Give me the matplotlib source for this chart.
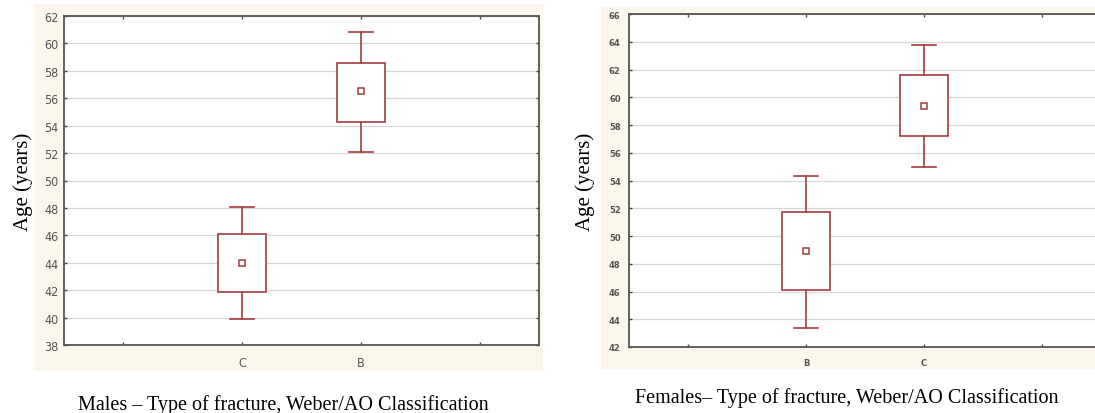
import matplotlib.pyplot as plt
from matplotlib.patches import Rectangle

# Males: type of fracture (C, B)
male_groups = ["C", "B"]
male_mean = [44.0, 56.5]
male_box_lo = [41.9, 54.3]
male_box_hi = [46.1, 58.6]
male_whisk_lo = [39.9, 52.1]
male_whisk_hi = [48.1, 60.8]

# Females: type of fracture (B, C)
female_groups = ["B", "C"]
female_mean = [48.9, 59.4]
female_box_lo = [46.1, 57.2]
female_box_hi = [51.7, 61.6]
female_whisk_lo = [43.4, 55.0]
female_whisk_hi = [54.3, 63.8]

box_color = "#a23d41"
cream = "#fcf7ec"
serif = ["Liberation Serif", "DejaVu Serif"]


def draw_panel(ax, groups, mean, box_lo, box_hi, whisk_lo, whisk_hi):
    pos = [2, 3]
    half_box = 0.2
    half_cap = 0.1
    for x, m, b0, b1, w0, w1 in zip(pos, mean, box_lo, box_hi, whisk_lo, whisk_hi):
        ax.add_patch(Rectangle((x - half_box, b0), 2 * half_box, b1 - b0,
                               facecolor="white", edgecolor=box_color, lw=1.2, zorder=3))
        ax.plot([x, x], [b1, w1], color=box_color, lw=1.2, zorder=3)
        ax.plot([x, x], [w0, b0], color=box_color, lw=1.2, zorder=3)
        ax.plot([x - half_cap, x + half_cap], [w1, w1], color=box_color, lw=1.2, zorder=3)
        ax.plot([x - half_cap, x + half_cap], [w0, w0], color=box_color, lw=1.2, zorder=3)
        ax.plot(x, m, marker="s", ms=4, mfc="white", mec=box_color, mew=1.1, zorder=4)
    ax.set_xlim(0.5, 4.5)
    ax.set_xticks([1, 2, 3, 4])
    ax.set_xticklabels(["", groups[0], groups[1], ""])
    ax.grid(axis="y", color="#d8d8d8", lw=0.9)
    ax.set_axisbelow(True)
    for s in ax.spines.values():
        s.set_color("#555555")
        s.set_linewidth(1.3)
    ax.tick_params(direction="in", length=2, width=1, color="#444444",
                   top=True, right=True, labelcolor="#555555")


fig = plt.figure(figsize=(10.95, 4.14), dpi=100)
W, H = 1095, 414

# cream background panels, behind the axes
fig.patches.append(Rectangle((34 / W, 1 - 372 / H), 509 / W, 367 / H,
                             transform=fig.transFigure, facecolor=cream, edgecolor="none", zorder=-5))
fig.patches.append(Rectangle((601 / W, 1 - 370 / H), 494 / W, 362 / H,
                             transform=fig.transFigure, facecolor=cream, edgecolor="none", zorder=-5))

ax1 = fig.add_axes([64 / W, 1 - 346 / H, 475 / W, 329 / H])
draw_panel(ax1, male_groups, male_mean, male_box_lo, male_box_hi, male_whisk_lo, male_whisk_hi)
ax1.set_ylim(38, 62)
ax1.set_yticks(range(38, 63, 2))
for lab in ax1.get_yticklabels() + ax1.get_xticklabels():
    lab.set_family(["DejaVu Sans"])
    lab.set_stretch("condensed")
    lab.set_fontsize(9)
ax1.tick_params(axis="x", pad=8)
ax1.tick_params(axis="y", pad=4)
ax1.set_ylabel("Age (years)", family=serif, fontsize=15, labelpad=8)

ax2 = fig.add_axes([629 / W, 1 - 348 / H, 472 / W, 333 / H])
draw_panel(ax2, female_groups, female_mean, female_box_lo, female_box_hi,
           female_whisk_lo, female_whisk_hi)
ax2.set_ylim(42, 66)
ax2.set_yticks(range(42, 67, 2))
for lab in ax2.get_yticklabels() + ax2.get_xticklabels():
    lab.set_fontsize(6)
    lab.set_fontweight("bold")
ax2.tick_params(axis="x", pad=8)
ax2.tick_params(axis="y", pad=6)
ax2.set_ylabel("Age (years)", family=serif, fontsize=15, labelpad=10)

fig.text(283 / W, 1 - 405 / H, "Males \u2013 Type of fracture, Weber/AO Classification",
         family=serif, fontsize=14.5, ha="center", va="center")
fig.text(847 / W, 1 - 398 / H, "Females\u2013 Type of fracture, Weber/AO Classification",
         family=serif, fontsize=14.5, ha="center", va="center")

fig.savefig("out.png", dpi=100, facecolor="white")
